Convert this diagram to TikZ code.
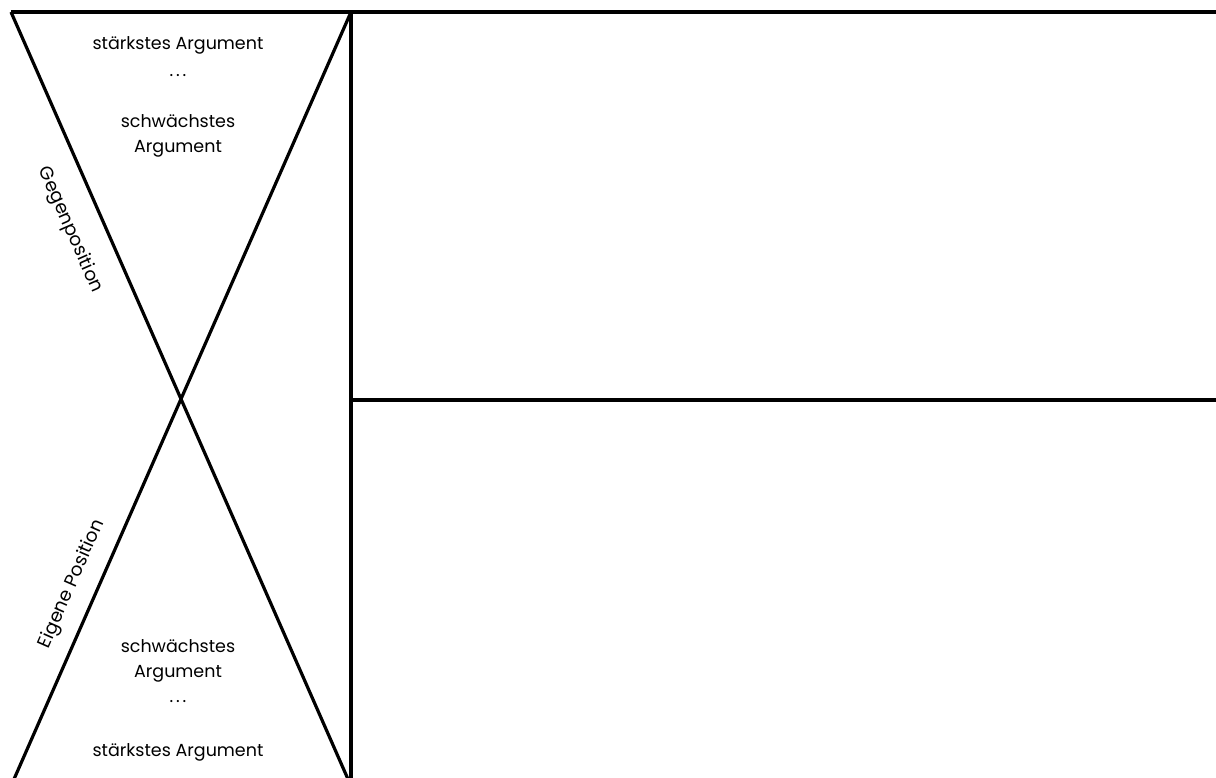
\documentclass[tikz,border=0pt]{standalone}
\usepackage{fontspec}
\setmainfont{Poppins}
\begin{document}
\begin{tikzpicture}[x=1pt,y=-1pt,
    rahmen/.style={line width=3.2pt,line join=miter},
    arg/.style={font=\fontsize{17.5}{25}\selectfont,align=center},
    seite/.style={font=\fontsize{18.5}{22}\selectfont}]
    \useasboundingbox (0,0) rectangle (1216,778);
    % Ecken
    \coordinate (ol) at (11,12);
    \coordinate (or) at (351,12);
    \coordinate (ul) at (11,786);
    \coordinate (ur) at (351,786);
    \coordinate (re) at (1216,12);
    \coordinate (mi) at (351,400);
    \coordinate (mr) at (1216,400);
    % Rahmen und Kreuz
    \draw[rahmen] (ol) -- (re);
    \draw[rahmen] (or) -- (351,778);
    \draw[rahmen] (mi) -- (mr);
    \draw[rahmen] (ol) -- (ur);
    \draw[rahmen] (or) -- (ul);
    % oben
    \node[arg] (st1) at (178,45) {stärkstes Argument};
    \node[arg] (pk1) at (178,76) {.\,.\,.};
    \node[arg] (sw1) at (178,136) {schwächstes\\Argument};
    % unten
    \node[arg] (sw2) at (178,661) {schwächstes\\Argument};
    \node[arg] (pk2) at (178,702) {.\,.\,.};
    \node[arg] (st2) at (178,752) {stärkstes Argument};
    % Beschriftung
    \node[seite,rotate=-66.3] (gp) at (70,230) {Gegenposition};
    \node[seite,rotate=66.3] (ep) at (72,584) {Eigene Position};
\end{tikzpicture}
\end{document}
